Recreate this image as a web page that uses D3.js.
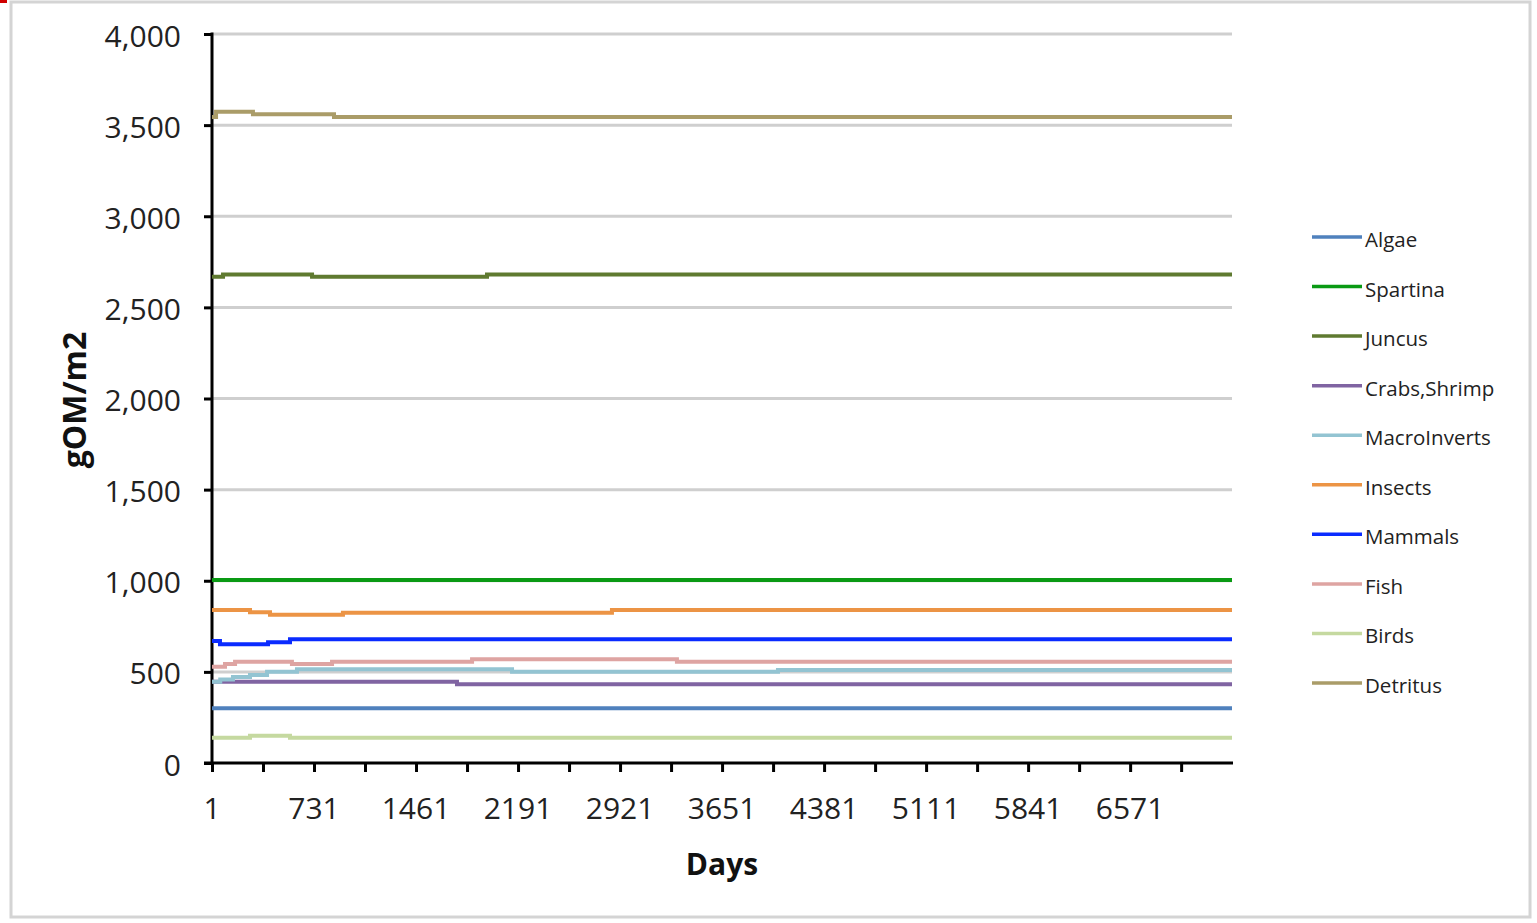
<!DOCTYPE html>
<html>
<head>
<meta charset="utf-8">
<script src="https://cdn.jsdelivr.net/npm/d3@7"></script>
<style>
  html, body { margin: 0; padding: 0; background: #fff; }
  svg { display: block; }
  text { font-family: "Open Sans", "Liberation Sans", sans-serif; }
</style>
</head>
<body>
<svg id="chart" width="1537" height="923"></svg>
<script>
// ---------- data ----------
const seriesNames = ["Algae", "Spartina", "Juncus", "Crabs,Shrimp", "MacroInverts",
                     "Insects", "Mammals", "Fish", "Birds", "Detritus"];
const seriesColors = ["#4f81bd", "#0a9a14", "#5f7a30", "#8064a2", "#93c4d2",
                      "#ec9445", "#0a2bff", "#dea4a2", "#c5d9a0", "#aa9c68"];

const dayFirst = 1, dayLast = 7300;
const yTicks = [0, 500, 1000, 1500, 2000, 2500, 3000, 3500, 4000];
const xTickDays = [1, 366, 731, 1096, 1461, 1826, 2191, 2556, 2921, 3286, 3651,
                   4016, 4381, 4746, 5111, 5476, 5841, 6206, 6571, 6936];
const xLabelDays = [1, 731, 1461, 2191, 2921, 3651, 4381, 5111, 5841, 6571];

// each series: [day, value] change points (value holds until next point)
const algae     = [[1, 300], [7300, 300]];
const spartina  = [[1, 1004], [7300, 1004]];
const juncus    = [[1, 2668], [80, 2681], [717, 2668], [1969, 2681], [7300, 2681]];
const crabs     = [[1, 446], [1754, 432], [7300, 432]];
const macro     = [[1, 446], [60, 458], [151, 472], [273, 483], [395, 501], [609, 514],
                   [2148, 501], [4051, 510], [7300, 510]];
const insects   = [[1, 840], [273, 827], [416, 814], [938, 825], [2863, 840], [7300, 840]];
const mammals   = [[1, 669], [58, 651], [402, 662], [559, 679], [7300, 679]];
const fish      = [[1, 528], [94, 543], [166, 556], [573, 543], [860, 556], [1862, 569],
                   [3328, 556], [7300, 556]];
const birds     = [[1, 139], [273, 150], [559, 139], [7300, 139]];
const detritus  = [[1, 3545], [30, 3574], [294, 3559], [874, 3545], [7300, 3545]];

const seriesData = [algae, spartina, juncus, crabs, macro, insects, mammals, fish, birds, detritus];

// ---------- layout ----------
const svg = d3.select("#chart");
const plot = { left: 212, right: 1232, top: 34, bottom: 763 };

// frame
svg.append("rect").attr("x", 11).attr("y", 2).attr("width", 1519).attr("height", 915)
  .attr("fill", "none").attr("stroke", "#d4d4d4").attr("stroke-width", 3);
svg.append("rect").attr("x", 0).attr("y", 0).attr("width", 7).attr("height", 3).attr("fill", "#d00000");

const x = d3.scaleLinear().domain([dayFirst, dayLast]).range([plot.left, plot.right]);
const y = d3.scaleLinear().domain([0, 4000]).range([plot.bottom, plot.top]);

// gridlines
svg.append("g").selectAll("line").data(yTicks.filter(d => d > 0)).join("line")
  .attr("x1", plot.left).attr("x2", plot.right)
  .attr("y1", d => y(d)).attr("y2", d => y(d))
  .attr("stroke", "#cfcfcf").attr("stroke-width", 3);

// y axis
const yAxis = d3.axisLeft(y).tickValues(yTicks).tickSize(8).tickPadding(23)
  .tickFormat(d3.format(","));
const gy = svg.append("g").attr("transform", `translate(${plot.left},0)`).call(yAxis);
gy.select(".domain").remove();
gy.selectAll(".tick line").attr("stroke", "#000").attr("stroke-width", 3);
gy.selectAll(".tick text").attr("font-size", 30).attr("fill", "#222")
  .attr("font-family", "'Open Sans', sans-serif").attr("dy", "0.4em");
svg.append("line").attr("x1", plot.left).attr("x2", plot.left)
  .attr("y1", plot.top - 1.5).attr("y2", plot.bottom + 1.5)
  .attr("stroke", "#000").attr("stroke-width", 3);

// series lines
const line = d3.line().x(d => x(d[0])).y(d => y(d[1])).curve(d3.curveStepAfter);
svg.append("g").selectAll("path").data(seriesData).join("path")
  .attr("d", d => line(d))
  .attr("fill", "none")
  .attr("stroke", (d, i) => seriesColors[i])
  .attr("stroke-width", 4)
  .attr("stroke-linejoin", "miter");

// x axis
const xAxis = d3.axisBottom(x).tickValues(xTickDays).tickSize(9).tickFormat("");
const gx = svg.append("g").attr("transform", `translate(0,${plot.bottom})`).call(xAxis);
gx.select(".domain").remove();
gx.selectAll(".tick line").attr("stroke", "#000").attr("stroke-width", 3);
svg.append("line").attr("x1", plot.left - 8).attr("x2", plot.right + 1)
  .attr("y1", plot.bottom).attr("y2", plot.bottom)
  .attr("stroke", "#000").attr("stroke-width", 3);
svg.append("g").selectAll("text").data(xLabelDays).join("text")
  .attr("x", d => x(d)).attr("y", 819)
  .attr("text-anchor", "middle").attr("font-size", 30).attr("fill", "#222")
  .text(d => d);

// axis titles
svg.append("text").attr("x", 722).attr("y", 875).attr("text-anchor", "middle")
  .attr("font-size", 30).attr("font-weight", "bold").attr("fill", "#111").text("Days");
svg.append("text").attr("transform", "translate(86,400) rotate(-90)")
  .attr("text-anchor", "middle").attr("font-size", 32).attr("font-weight", "bold")
  .attr("fill", "#111").text("gOM/m2");

// legend
const legendY = d3.scalePoint().domain(seriesNames).range([240, 686]);
const lg = svg.append("g");
seriesNames.forEach((name, i) => {
  const yy = legendY(name);
  lg.append("line").attr("x1", 1312).attr("x2", 1362).attr("y1", yy - 3).attr("y2", yy - 3)
    .attr("stroke", seriesColors[i]).attr("stroke-width", 3.5);
  lg.append("text").attr("x", 1365).attr("y", yy + 7).attr("font-size", 20.5)
    .attr("fill", "#222").text(name);
});
</script>
</body>
</html>
